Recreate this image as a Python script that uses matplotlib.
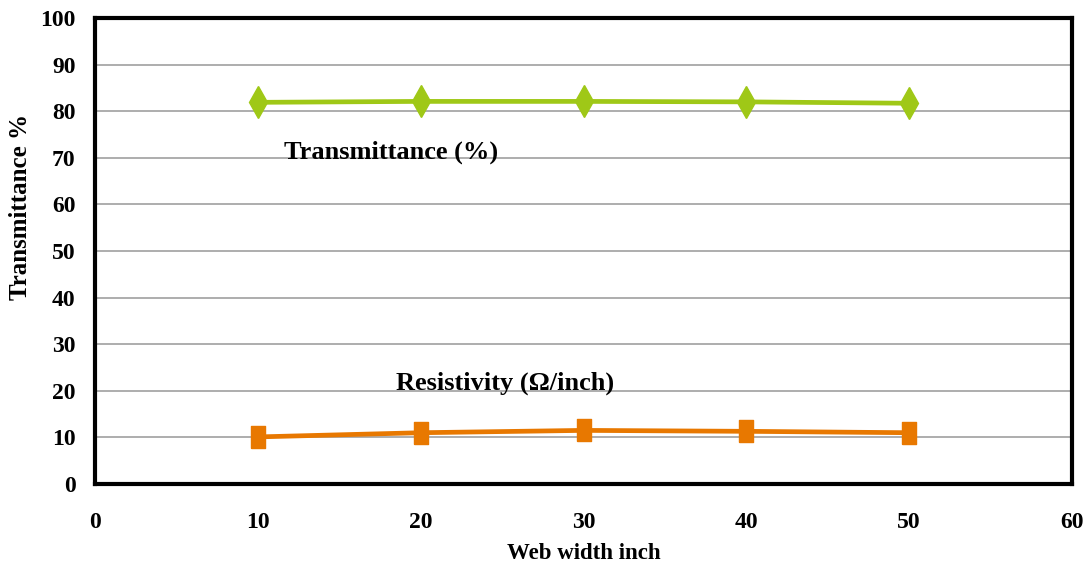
import numpy as np
import matplotlib
matplotlib.use("Agg")
import matplotlib.pyplot as plt

# data
web_width = [10, 20, 30, 40, 50]
transmittance = [81.9, 82.1, 82.1, 82.0, 81.7]
resistivity = [10.1, 11.0, 11.5, 11.3, 11.0]

xticks = [0, 10, 20, 30, 40, 50, 60]
yticks = [0, 10, 20, 30, 40, 50, 60, 70, 80, 90, 100]

plt.rcParams['font.family'] = ['Liberation Serif', 'DejaVu Serif']
plt.rcParams['font.weight'] = 'bold'

fig = plt.figure(figsize=(10.9, 5.71), dpi=100)
ax = fig.add_axes([0.0872, 0.1524, 0.8963, 0.8161])

green = '#9fc817'
orange = '#e87800'
# tall rounded-ish square marker (the reference looks stretched vertically)
tall_sq = [(-0.6, -1), (0.6, -1), (0.6, 1), (-0.6, 1), (-0.6, -1)]

ax.plot(web_width, transmittance, color=green, lw=3.4, marker='d',
        markersize=16, markeredgecolor=green, zorder=3)
ax.plot(web_width, resistivity, color=orange, lw=3.4, marker=tall_sq,
        markersize=16, markeredgecolor=orange, zorder=3)

ax.set_xlim(0, 60)
ax.set_ylim(0, 100)
ax.set_xticks(xticks)
ax.set_yticks(yticks)
ax.yaxis.grid(True, color='#a0a0a0', lw=1.2)
ax.set_axisbelow(True)
ax.tick_params(length=0, labelsize=17, pad=14)
ax.tick_params(axis='x', pad=20)
for lab in ax.get_xticklabels() + ax.get_yticklabels():
    lab.set_fontweight('bold')

for s in ax.spines.values():
    s.set_linewidth(3)
    s.set_color('black')

ax.text(18.2, 71.2, 'Transmittance (%)', fontsize=19, fontweight='bold',
        ha='center', va='center')
ax.text(25.2, 21.7, 'Resistivity (\u03a9/inch)', fontsize=19, fontweight='bold',
        ha='center', va='center')

fig.text(0.5353, 0.0315, 'Web width inch', fontsize=16.5, fontweight='bold',
         ha='center', va='center')
fig.text(0.0185, 1 - 207 / 571, 'Transmittance %', fontsize=18, fontweight='bold',
         ha='center', va='center', rotation=90)

fig.savefig('out.png', dpi=100)
